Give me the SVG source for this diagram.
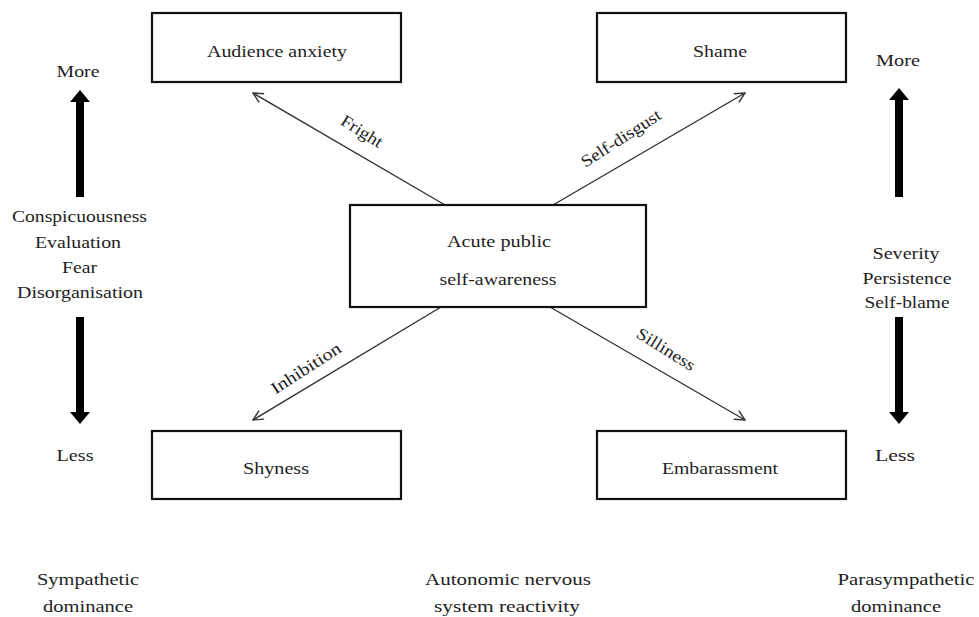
<svg xmlns="http://www.w3.org/2000/svg" width="979" height="617" viewBox="0 0 979 617">
  <defs>
    <style>
      .box { fill: #ffffff; stroke: #111111; stroke-width: 2.2; }
      .lbl { font-family: "Liberation Serif", "Times New Roman", serif; font-size: 17px; fill: #1e1e1e; text-anchor: middle; }
      .conn { stroke: #333333; stroke-width: 1.4; fill: none; marker-end: url(#open); }
      .bold { fill: #000000; }
    </style>
    <marker id="open" viewBox="0 0 12 12" refX="11" refY="6" markerWidth="12" markerHeight="12" markerUnits="userSpaceOnUse" orient="auto">
      <path d="M1,1 L11,6 L1,11" fill="none" stroke="#333333" stroke-width="1.4"/>
    </marker>
  </defs>
  <rect width="979" height="617" fill="#ffffff"/>

  <!-- connectors from the central node -->
  <g id="connectors">
    <line class="conn" x1="445" y1="205" x2="253" y2="93"/>
    <line class="conn" x1="553" y1="205" x2="745" y2="93"/>
    <line class="conn" x1="441" y1="307" x2="253" y2="420"/>
    <line class="conn" x1="550" y1="307" x2="745" y2="420"/>
    <text class="lbl" transform="translate(359,136) rotate(32)" textLength="46" lengthAdjust="spacingAndGlyphs">Fright</text>
    <text class="lbl" transform="translate(624,143) rotate(-33)" textLength="92" lengthAdjust="spacingAndGlyphs">Self-disgust</text>
    <text class="lbl" transform="translate(309,373) rotate(-33)" textLength="80" lengthAdjust="spacingAndGlyphs">Inhibition</text>
    <text class="lbl" transform="translate(663,354) rotate(32)" textLength="66" lengthAdjust="spacingAndGlyphs">Silliness</text>
  </g>

  <g id="audience-anxiety">
    <rect class="box" x="152" y="13" width="249" height="69"/>
    <text class="lbl" x="277" y="57" textLength="140" lengthAdjust="spacingAndGlyphs">Audience anxiety</text>
  </g>
  <g id="shame">
    <rect class="box" x="597" y="13" width="249" height="69"/>
    <text class="lbl" x="720" y="57" textLength="54" lengthAdjust="spacingAndGlyphs">Shame</text>
  </g>
  <g id="acute-public-self-awareness">
    <rect class="box" x="350" y="205" width="296" height="102"/>
    <text class="lbl" x="499" y="247" textLength="104" lengthAdjust="spacingAndGlyphs">Acute public</text>
    <text class="lbl" x="498" y="285" textLength="117" lengthAdjust="spacingAndGlyphs">self-awareness</text>
  </g>
  <g id="shyness">
    <rect class="box" x="152" y="431" width="249" height="68"/>
    <text class="lbl" x="276" y="474" textLength="66" lengthAdjust="spacingAndGlyphs">Shyness</text>
  </g>
  <g id="embarassment">
    <rect class="box" x="597" y="431" width="249" height="68"/>
    <text class="lbl" x="720" y="474" textLength="116" lengthAdjust="spacingAndGlyphs">Embarassment</text>
  </g>

  <!-- left scale -->
  <g id="left-scale">
    <text class="lbl" x="78" y="77" textLength="43" lengthAdjust="spacingAndGlyphs">More</text>
    <path class="bold" d="M76,197 L76,102 L70,102 L80,90 L90,102 L84,102 L84,197 Z"/>
    <text class="lbl" x="79.5" y="222" textLength="135" lengthAdjust="spacingAndGlyphs">Conspicuousness</text>
    <text class="lbl" x="78" y="248" textLength="86" lengthAdjust="spacingAndGlyphs">Evaluation</text>
    <text class="lbl" x="79.5" y="273" textLength="35" lengthAdjust="spacingAndGlyphs">Fear</text>
    <text class="lbl" x="80" y="298" textLength="126" lengthAdjust="spacingAndGlyphs">Disorganisation</text>
    <path class="bold" d="M76,317 L76,412 L70,412 L80,424 L90,412 L84,412 L84,317 Z"/>
    <text class="lbl" x="75" y="461" textLength="37" lengthAdjust="spacingAndGlyphs">Less</text>
  </g>

  <!-- right scale -->
  <g id="right-scale">
    <text class="lbl" x="898" y="66" textLength="44" lengthAdjust="spacingAndGlyphs">More</text>
    <path class="bold" d="M895,197 L895,100 L889,100 L899,88 L909,100 L903,100 L903,197 Z"/>
    <text class="lbl" x="906" y="259" textLength="67" lengthAdjust="spacingAndGlyphs">Severity</text>
    <text class="lbl" x="907" y="284" textLength="89" lengthAdjust="spacingAndGlyphs">Persistence</text>
    <text class="lbl" x="907" y="308" textLength="85" lengthAdjust="spacingAndGlyphs">Self-blame</text>
    <path class="bold" d="M895,317 L895,412 L889,412 L899,424 L909,412 L903,412 L903,317 Z"/>
    <text class="lbl" x="895" y="461" textLength="40" lengthAdjust="spacingAndGlyphs">Less</text>
  </g>

  <!-- autonomic reactivity axis labels -->
  <g id="ans-labels">
    <text class="lbl" x="88" y="585" textLength="102" lengthAdjust="spacingAndGlyphs">Sympathetic</text>
    <text class="lbl" x="88" y="612" textLength="90" lengthAdjust="spacingAndGlyphs">dominance</text>
    <text class="lbl" x="508" y="585" textLength="166" lengthAdjust="spacingAndGlyphs">Autonomic nervous</text>
    <text class="lbl" x="507" y="612" textLength="146" lengthAdjust="spacingAndGlyphs">system reactivity</text>
    <text class="lbl" x="906" y="585" textLength="137" lengthAdjust="spacingAndGlyphs">Parasympathetic</text>
    <text class="lbl" x="896" y="612" textLength="90" lengthAdjust="spacingAndGlyphs">dominance</text>
  </g>
</svg>
